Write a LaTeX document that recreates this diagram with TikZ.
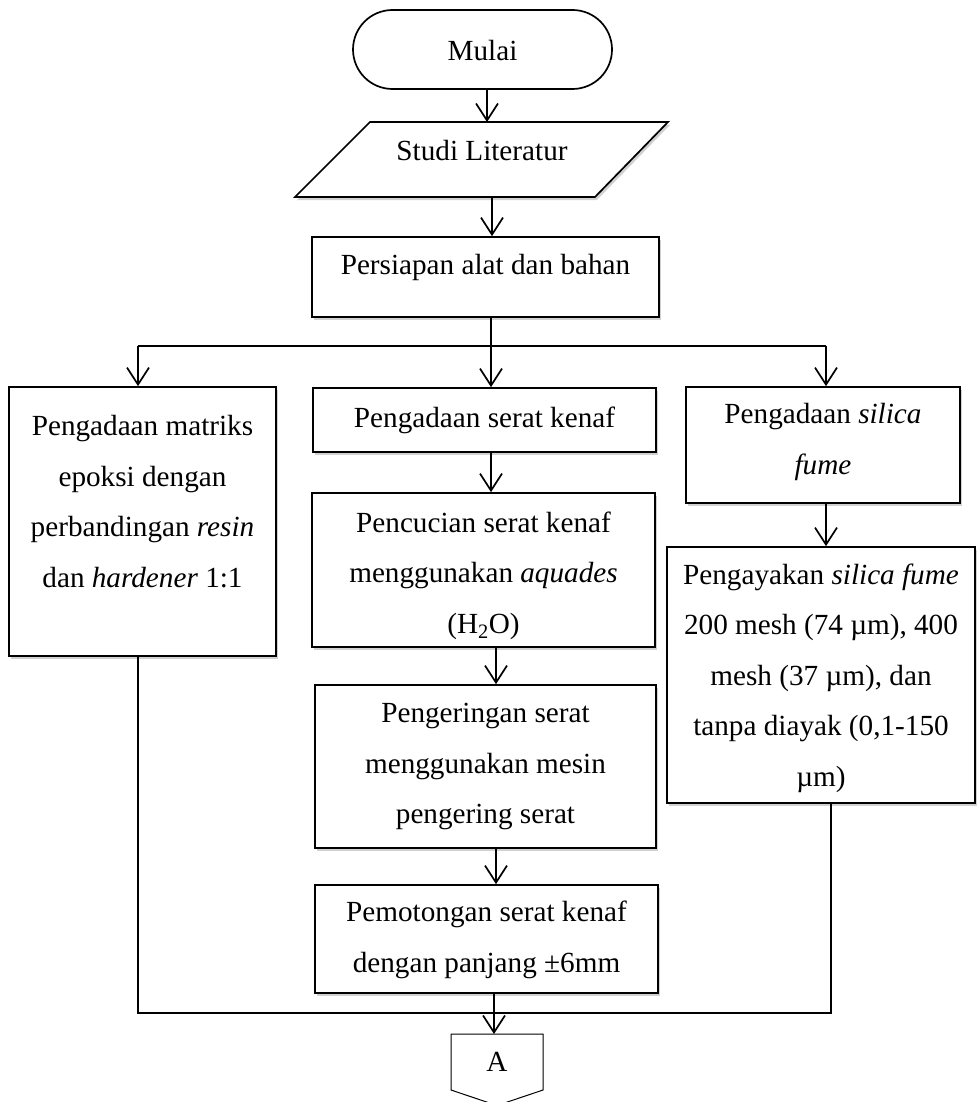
\documentclass[tikz,border=0pt]{standalone}
\usepackage{fontspec}
\setmainfont{Liberation Serif}
\usetikzlibrary{arrows.meta,shapes.misc,shadows}
\newcommand{\lst}{\rule[-0.24em]{0pt}{1.14em}}
\tikzset{
  box/.style={draw, line width=1.7pt, fill=white, inner sep=0pt,
    drop shadow={shadow xshift=2pt, shadow yshift=-3pt, opacity=0.3, fill=black!60}},
  term/.style={draw, line width=1.7pt, fill=white, inner sep=0pt, rounded rectangle},
  txt/.style={align=center, inner sep=0pt, font=\fontsize{29.2}{50.5}\selectfont},
  ln/.style={line width=1.7pt},
  arr/.style={line width=1.7pt, -{Straight Barb[length=17pt,width=22pt]}},
}
\begin{document}
\begin{tikzpicture}[x=1pt,y=-1pt]
\useasboundingbox (0,0) rectangle (977,1102);

% shapes
\node[term, minimum width=259pt, minimum height=79pt] (mulai) at (482.5,49.5) {};
\draw[box] (295,197) -- (370,122) -- (668,122) -- (595,197) -- cycle;
\node[box, minimum width=347pt, minimum height=80pt]  (persiapan)   at (485.5,277) {};
\node[box, minimum width=267pt, minimum height=269pt] (matriks)     at (142.5,521.5) {};
\node[box, minimum width=343pt, minimum height=64pt]  (serat)       at (484.5,420) {};
\node[box, minimum width=343pt, minimum height=154pt] (pencucian)   at (483.5,570) {};
\node[box, minimum width=341pt, minimum height=163pt] (pengeringan) at (485.5,766.5) {};
\node[box, minimum width=343pt, minimum height=108pt] (pemotongan)  at (486.5,939) {};
\node[box, minimum width=274pt, minimum height=116pt] (silica)      at (823,445) {};
\node[box, minimum width=308pt, minimum height=256pt] (pengayakan)  at (821,675) {};
\draw[line width=1pt, fill=white] (451,1034) -- (543,1034) -- (543,1090) -- (497,1105.5) -- (451,1090) -- cycle;

% texts
\node[txt] (mulai-t) at (482.5,50.4) {\lst Mulai};
\node[txt] (studi-t) at (482,150.4) {\lst Studi Literatur};
\node[txt] (persiapan-t) at (485.5,264.4) {\lst Persiapan alat dan bahan};
\node[txt] (matriks-t) at (142.5,502) {\lst Pengadaan matriks\\epoksi dengan\\perbandingan \textit{resin}\\dan \textit{hardener} 1:1\lst};
\node[txt] (serat-t) at (484.5,417.4) {\lst Pengadaan serat kenaf};
\node[txt] (pencucian-t) at (483.5,573) {\lst Pencucian serat kenaf\\menggunakan \textit{aquades}\\(H\textsubscript{2}O)\lst};
\node[txt] (pengeringan-t) at (485.5,763.4) {\lst Pengeringan serat\\menggunakan mesin\\pengering serat\lst};
\node[txt] (pemotongan-t) at (486.5,937.4) {\lst Pemotongan serat kenaf\\dengan panjang ±6mm\lst};
\node[txt] (silica-t) at (823,439.4) {\lst Pengadaan \textit{silica}\\\textit{fume}\lst};
\node[txt] (pengayakan-t) at (821,675.4) {\lst Pengayakan \textit{silica fume}\\200 mesh (74 µm), 400\\mesh (37 µm), dan\\tanpa diayak (0,1-150\\µm)\lst};
\node[txt] (A) at (497,1062) {\lst A};

% connector coordinates
\coordinate (studiN) at (487,122);
\coordinate (studiS) at (492,197);
\coordinate (bl) at (138,346);
\coordinate (bm) at (491,346);
\coordinate (br) at (826,346);
\coordinate (x1) at (491,0);
\coordinate (x2) at (496,0);
\coordinate (xa) at (494,0);
\coordinate (Atop) at (494,1034);
\coordinate (jl) at (138,1013);
\coordinate (jr) at (831,1013);

% connectors
\draw[arr] (mulai.south -| studiN) -- (studiN);
\draw[arr] (studiS) -- (persiapan.north -| studiS);
\draw[ln] (persiapan.south -| bm) -- (bm);
\draw[ln] (bl) -- (br);
\draw[arr] (bl) -- (matriks.north -| bl);
\draw[arr] (bm) -- (serat.north -| bm);
\draw[arr] (br) -- (silica.north -| br);
\draw[arr] (serat.south -| x1) -- (pencucian.north -| x1);
\draw[arr] (pencucian.south -| x2) -- (pengeringan.north -| x2);
\draw[arr] (pengeringan.south -| x2) -- (pemotongan.north -| x2);
\draw[arr] (silica.south -| br) -- (pengayakan.north -| br);
\draw[ln] (matriks.south -| jl) -- (jl) -- (jr) -- (pengayakan.south -| jr);
\draw[arr] (pemotongan.south -| xa) -- (Atop);
\end{tikzpicture}
\end{document}
